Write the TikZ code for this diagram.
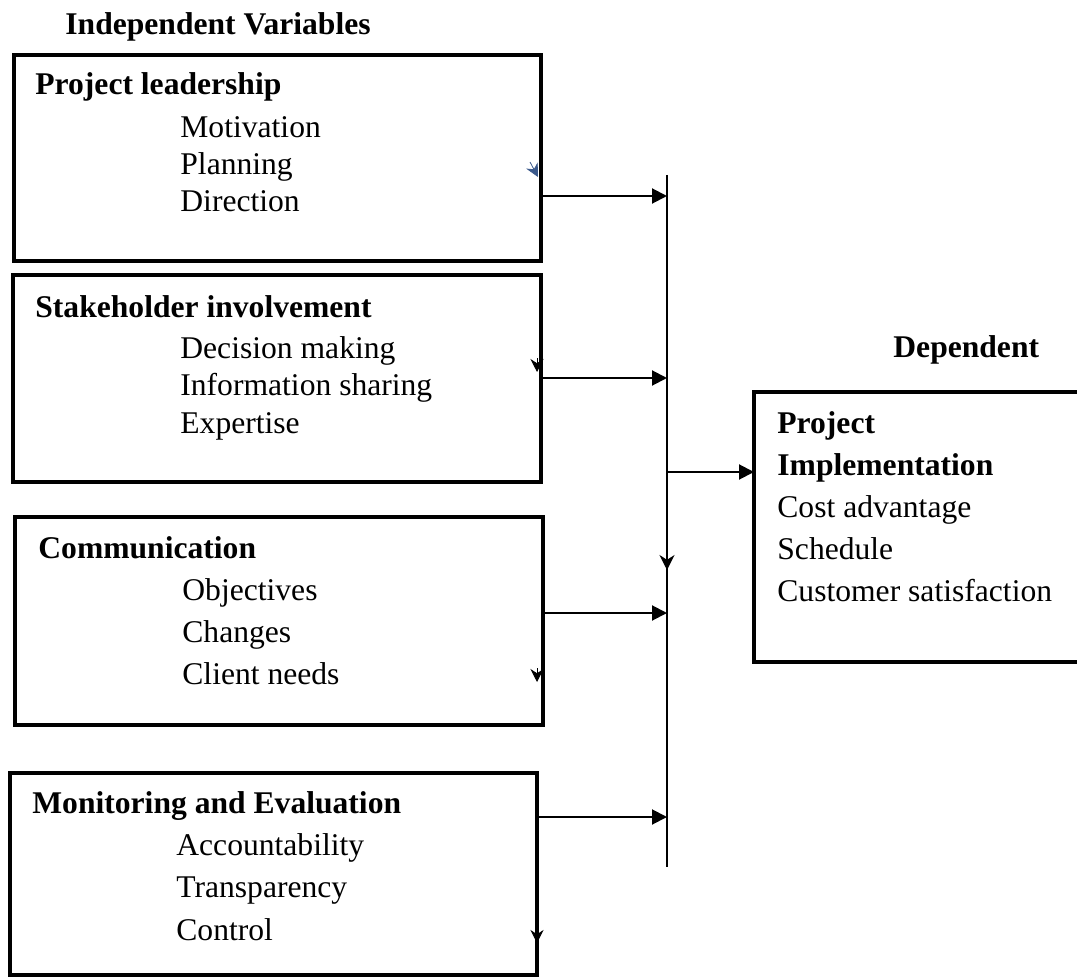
\documentclass[tikz,border=0pt]{standalone}
\usepackage{fontspec}
\setmainfont{Liberation Serif}
\usepackage{tikz}
\usetikzlibrary{positioning, arrows.meta}
\definecolor{straytip}{RGB}{60,90,140}
\tikzstyle{varbox} = [rectangle, draw=black, line width=2.4pt, anchor=north west, inner sep=0pt, outer sep=0pt]
\tikzstyle{heading} = [anchor=base west, inner sep=0pt, font=\fontsize{15.8}{18.5}\selectfont\bfseries]
\tikzstyle{itemlist} = [anchor=base west, inner sep=0pt, align=left]
\tikzstyle{arrow} = [line width=1pt, -{Triangle[length=7.5pt,width=7.5pt]}]
\tikzstyle{stray} = [line width=0.4pt, -{Stealth[length=6.5pt,width=6.5pt]}]

\begin{document}
\begin{tikzpicture}[x=0.5pt, y=-0.5pt]
        \useasboundingbox (0,0) rectangle (1077,979);

        \node (indep) [heading] at (65,35) {Independent Variables};
        \node (dep) [heading] at (893,357) {Dependent};

        \node (leadbox) [varbox, minimum width=263.5pt, minimum height=103pt] at (14,55) {};
        \node (stakebox) [varbox, minimum width=264pt, minimum height=103.5pt] at (13,275) {};
        \node (commbox) [varbox, minimum width=264pt, minimum height=104pt] at (15,517) {};
        \node (monbox) [varbox, minimum width=263.5pt, minimum height=101pt] at (10,773) {};
        \node (depbox) [varbox, minimum width=175pt, minimum height=135pt] at (754,392) {};

        % item lists sit on the baseline of their last line
        \node (leadtitle) [heading] at (35,95) {Project leadership};
        \node (leaditems) [itemlist, font=\fontsize{15.8}{18.5}\selectfont] at (180,212) {Motivation\\Planning\\Direction};
        \node (staketitle) [heading] at (35,317) {Stakeholder involvement};
        \node (stakeitems) [itemlist, font=\fontsize{15.8}{18.75}\selectfont] at (180,433) {Decision making\\Information sharing\\Expertise};
        \node (commtitle) [heading] at (38,558) {Communication};
        \node (commitems) [itemlist, font=\fontsize{15.8}{21}\selectfont] at (182,684) {Objectives\\Changes\\Client needs};
        \node (montitle) [heading] at (32,813) {Monitoring and Evaluation};
        \node (monitems) [itemlist, font=\fontsize{15.8}{21.25}\selectfont] at (176,940) {Accountability\\Transparency\\Control};
        \node (depitems) [itemlist, font=\fontsize{15.8}{21}\selectfont] at (777,601) {\textbf{Project}\\\textbf{Implementation}\\Cost advantage\\Schedule\\Customer satisfaction};

        % collecting line
        \coordinate (bustop) at (667,175);
        \coordinate (busbot) at (667,867);
        \coordinate (busmid) at (667,570);
        \coordinate (j1) at (667,196);
        \coordinate (j2) at (667,378);
        \coordinate (j3) at (667,613);
        \coordinate (j4) at (667,817);
        \coordinate (jout) at (667,472);

        \draw [line width=1pt] (bustop) -- (busbot);
        \draw [line width=1pt, -{Stealth[length=7.5pt,width=7.5pt]}] (j3 |- jout) -- (busmid);
        \draw [arrow] (leadbox.east |- j1) -- (j1);
        \draw [arrow] (stakebox.east |- j2) -- (j2);
        \draw [arrow] (commbox.east |- j3) -- (j3);
        \draw [arrow] (monbox.east |- j4) -- (j4);
        \draw [arrow] (jout) -- (depbox.west |- jout);

        % stray tips on the box edges
        \coordinate (s1a) at (530,162);
        \coordinate (s1b) at (538,177);
        \coordinate (s2a) at (537,358);
        \coordinate (s2b) at (537,372);
        \coordinate (s3a) at (537,668);
        \coordinate (s3b) at (537,682);
        \coordinate (s4a) at (537,929);
        \coordinate (s4b) at (537,943);
        \draw [stray, straytip] (s1a) -- (s1b);
        \draw [stray] (s2a) -- (s2b);
        \draw [stray] (s3a) -- (s3b);
        \draw [stray] (s4a) -- (s4b);
\end{tikzpicture}
\end{document}
